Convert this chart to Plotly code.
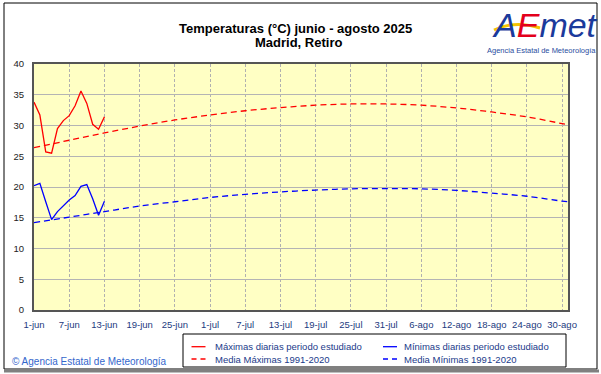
import plotly.graph_objects as go

# ---------------- data ----------------
obs_dates = ['2025-06-01', '2025-06-02', '2025-06-03', '2025-06-04', '2025-06-05',
             '2025-06-06', '2025-06-07', '2025-06-08', '2025-06-09', '2025-06-10',
             '2025-06-11', '2025-06-12', '2025-06-13']
tmax_obs = [33.8, 31.7, 25.7, 25.5, 29.5, 30.8, 31.6, 33.2, 35.6, 33.6, 30.2, 29.4, 31.4]
tmin_obs = [20.2, 20.6, 17.6, 14.7, 16.0, 17.0, 17.9, 18.6, 20.1, 20.4, 18.1, 15.4, 17.7]

norm_dates = ['2025-06-01', '2025-06-07', '2025-06-13', '2025-06-19', '2025-06-25',
              '2025-07-01', '2025-07-07', '2025-07-13', '2025-07-19', '2025-07-25',
              '2025-07-31', '2025-08-06', '2025-08-12', '2025-08-18', '2025-08-24',
              '2025-08-30', '2025-08-31']
tmax_norm = [26.4, 27.6, 28.8, 29.9, 30.9, 31.7, 32.4, 32.9, 33.3, 33.5,
             33.5, 33.3, 32.85, 32.2, 31.4, 30.3, 30.1]
tmin_norm = [14.2, 15.1, 16.0, 16.9, 17.6, 18.3, 18.8, 19.2, 19.5, 19.7,
             19.75, 19.7, 19.45, 19.0, 18.5, 17.7, 17.6]

tick_dates = norm_dates[:16]
tick_labels = ['1-jun', '7-jun', '13-jun', '19-jun', '25-jun', '1-jul', '7-jul', '13-jul',
               '19-jul', '25-jul', '31-jul', '6-ago', '12-ago', '18-ago', '24-ago', '30-ago']
y_ticks = [0, 5, 10, 15, 20, 25, 30, 35, 40]

series_names = ['Máximas diarias periodo estudiado', 'Mínimas diarias periodo estudiado',
                'Media Máximas 1991-2020', 'Media Mínimas 1991-2020']
series_colors = ['#ff0000', '#0000ff', '#ff0000', '#0000ff']
series_dash = ['solid', 'solid', '5px,4px', '5px,4px']

# ---------------- layout geometry (pixels) ----------------
WIDTH, HEIGHT = 601, 374
L, R, T, B = 34, 568, 64, 310
PW, PH = R - L, B - T


def px(x):
    return (x - L) / PW


def py(y):
    return (B - y) / PH


FONT = "Liberation Sans, Arial, sans-serif"

fig = go.Figure()
fig.add_trace(go.Scatter(x=obs_dates, y=tmax_obs, mode='lines', name=series_names[0],
                         line=dict(color=series_colors[0], width=1.3)))
fig.add_trace(go.Scatter(x=obs_dates, y=tmin_obs, mode='lines', name=series_names[1],
                         line=dict(color=series_colors[1], width=1.3)))
fig.add_trace(go.Scatter(x=norm_dates, y=tmax_norm, mode='lines', name=series_names[2],
                         line_shape='spline',
                         line=dict(color=series_colors[2], width=1.3, dash='6px,4px')))
fig.add_trace(go.Scatter(x=norm_dates, y=tmin_norm, mode='lines', name=series_names[3],
                         line_shape='spline',
                         line=dict(color=series_colors[3], width=1.3, dash='6px,4px')))

fig.update_layout(
    width=WIDTH, height=HEIGHT,
    margin=dict(l=L, r=WIDTH - R, t=T, b=HEIGHT - B, pad=0, autoexpand=False),
    paper_bgcolor='white', plot_bgcolor='#ffffc4',
    font=dict(family=FONT, size=10, color='#1a1a1a'),
    showlegend=False,
    xaxis=dict(type='date', range=['2025-06-01', '2025-08-31'],
               tickvals=tick_dates, ticktext=tick_labels,
               tickfont=dict(size=9.5, color='#1c3a80'),
               showgrid=True, gridcolor='#b0b0b0', gridwidth=1, griddash='3px,2px',
               showline=True, linecolor='#555555', linewidth=2, mirror=True,
               ticks='', ticklabelstandoff=5, zeroline=False, fixedrange=True),
    yaxis=dict(range=[0, 40], tickvals=y_ticks,
               tickfont=dict(size=9.5, color='#222222'),
               showgrid=True, gridcolor='#b4b4b4', gridwidth=1,
               showline=True, linecolor='#555555', linewidth=2, mirror=True,
               ticks='', ticklabelstandoff=6, zeroline=False, fixedrange=True),
)

annotations = [
    dict(text='<b>Temperaturas (°C) junio - agosto 2025</b>', x=px(295), y=py(28),
         font=dict(size=13, color='black', family=FONT)),
    dict(text='<b>Madrid, Retiro</b>', x=px(298.5), y=py(43),
         font=dict(size=13, color='black', family=FONT)),
    dict(text='© Agencia Estatal de Meteorología', x=px(10), y=py(361), xanchor='left',
         font=dict(size=10, color='#3366cc', family=FONT)),
    dict(text="<i><span style='color:#1b3a9b'>A</span><span style='color:#e3001b'>E</span>"
              "<span style='color:#1b3a9b'>met</span></i>",
         x=px(545), y=py(25), font=dict(size=34, family=FONT)),
    dict(text='Agencia Estatal de Meteorología', x=px(541), y=py(50),
         font=dict(size=7.5, color='#2a4da0', family=FONT)),
]

shapes = [
    # outer frame
    dict(type='rect', x0=px(4), x1=px(597), y0=py(3), y1=py(369),
         line=dict(color='black', width=1)),
    dict(type='rect', x0=px(4), x1=px(599), y0=py(369.5), y1=py(372.5),
         line=dict(width=0), fillcolor='#808080'),
    # yellow swoosh of logo
    dict(type='path',
         path=f"M {px(494)},{py(30)} Q {px(515)},{py(20)} {px(540)},{py(28)}",
         line=dict(color='#f5c400', width=3)),
    # legend box
    dict(type='rect', x0=px(183), x1=px(566), y0=py(334), y1=py(367),
         line=dict(color='black', width=1), fillcolor='white'),
]

# legend entries (2 columns x 2 rows)
leg_cols = [(191.5, 212.5), (383, 402)]
leg_rows = [346.7, 359]
for i, name in enumerate(series_names):
    col, row = leg_cols[i % 2], leg_rows[i // 2]
    shapes.append(dict(type='line', x0=px(col[0]), x1=px(col[0] + 14), y0=py(row), y1=py(row),
                       line=dict(color=series_colors[i], width=1.3,
                                 dash='solid' if series_dash[i] == 'solid' else '5px,4px')))
    annotations.append(dict(text=name, x=px(col[1]), y=py(row), xanchor='left',
                            font=dict(size=9.5, color='#1a3a8a', family=FONT)))

for a in annotations:
    a.setdefault('xanchor', 'center')
    a.update(xref='paper', yref='paper', yanchor='middle', showarrow=False)
for s in shapes:
    s.update(xref='paper', yref='paper', layer='above')
fig.update_layout(annotations=annotations, shapes=shapes)

fig.write_html('out.html', config={'displayModeBar': False},
               post_script="document.body.style.margin='0';document.body.style.overflow='hidden';")
